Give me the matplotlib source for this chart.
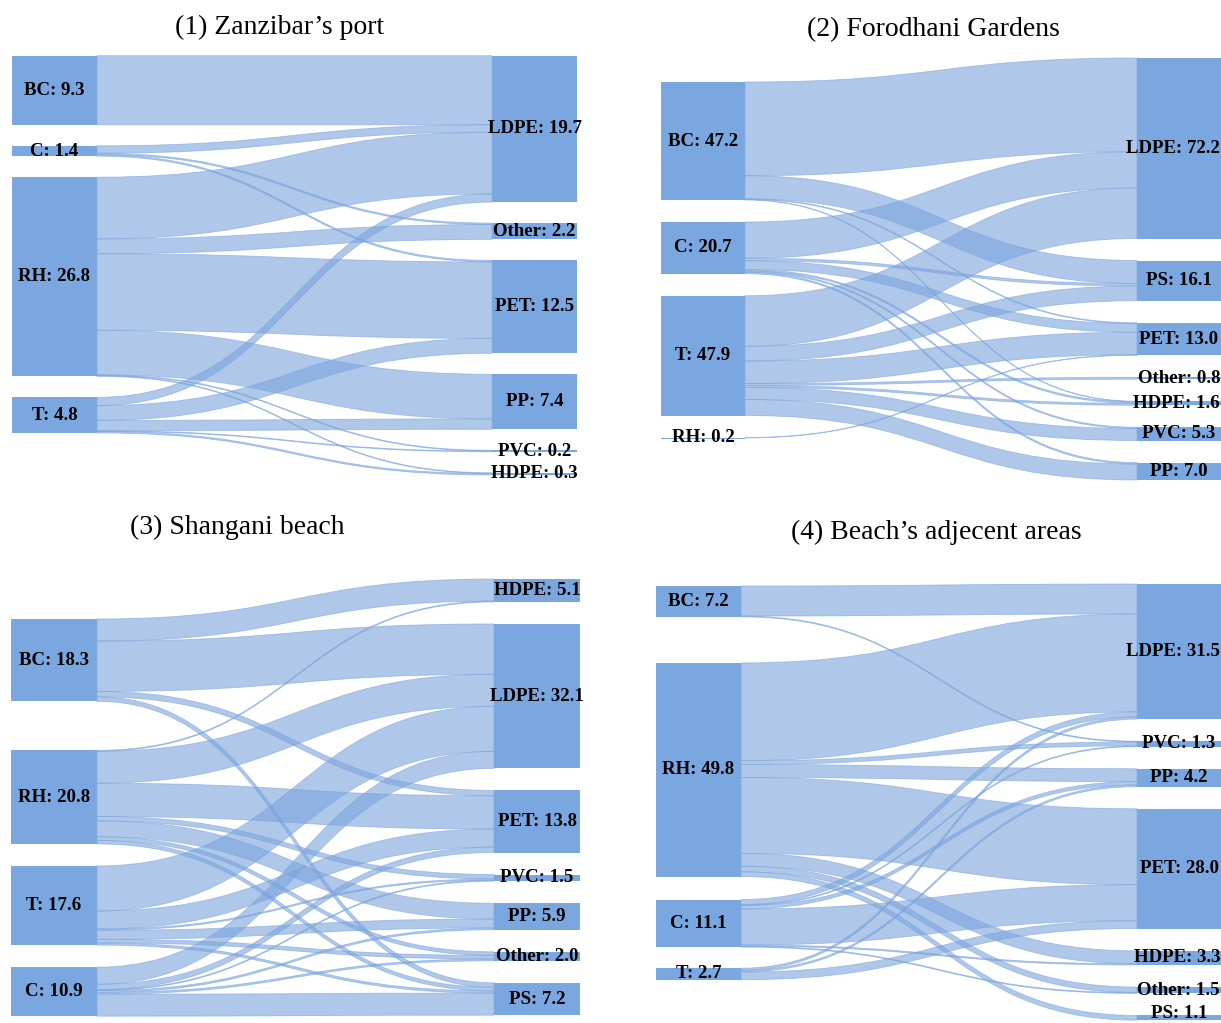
import matplotlib
matplotlib.use("Agg")
import matplotlib.pyplot as plt
from matplotlib.path import Path
from matplotlib.patches import PathPatch, Rectangle

# ---------------------------------------------------------------- data
P1_TITLE = "(1) Zanzibar\u2019s port"
P1_SOURCES = ["BC", "C", "RH", "T"]
P1_SOURCE_VALUES = [9.3, 1.4, 26.8, 4.8]
P1_TARGETS = ["LDPE", "Other", "PET", "PP", "PVC", "HDPE"]
P1_TARGET_VALUES = [19.7, 2.2, 12.5, 7.4, 0.2, 0.3]
P1_FLOWS = [  # rows: sources, columns: targets
    [9.3, 0.0, 0.0, 0.0, 0.0, 0.0],
    [1.0, 0.2, 0.2, 0.0, 0.0, 0.0],
    [8.3, 2.0, 10.3, 6.0, 0.1, 0.1],
    [1.1, 0.0, 2.0, 1.4, 0.1, 0.2],
]

P2_TITLE = "(2) Forodhani Gardens"
P2_SOURCES = ["BC", "C", "T", "RH"]
P2_SOURCE_VALUES = [47.2, 20.7, 47.9, 0.2]
P2_TARGETS = ["LDPE", "PS", "PET", "Other", "HDPE", "PVC", "PP"]
P2_TARGET_VALUES = [72.2, 16.1, 13.0, 0.8, 1.6, 5.3, 7.0]
P2_FLOWS = [
    [37.5, 9.2, 0.3, 0.0, 0.2, 0.0, 0.0],
    [14.5, 1.0, 3.5, 0.0, 0.6, 0.5, 0.6],
    [20.2, 5.9, 9.0, 0.8, 0.8, 4.8, 6.4],
    [0.0, 0.0, 0.2, 0.0, 0.0, 0.0, 0.0],
]

P3_TITLE = "(3) Shangani beach"
P3_SOURCES = ["BC", "RH", "T", "C"]
P3_SOURCE_VALUES = [18.3, 20.8, 17.6, 10.9]
P3_TARGETS = ["HDPE", "LDPE", "PET", "PVC", "PP", "Other", "PS"]
P3_TARGET_VALUES = [5.1, 32.1, 13.8, 1.5, 5.9, 2.0, 7.2]
P3_FLOWS = [
    [4.9, 11.2, 1.2, 0.0, 0.0, 0.0, 1.0],
    [0.2, 7.1, 7.4, 1.0, 3.5, 0.8, 0.8],
    [0.0, 10.0, 4.0, 0.3, 2.0, 0.8, 0.5],
    [0.0, 3.8, 1.2, 0.2, 0.4, 0.4, 4.9],
]

P4_TITLE = "(4) Beach\u2019s adjecent areas"
P4_SOURCES = ["BC", "RH", "C", "T"]
P4_SOURCE_VALUES = [7.2, 49.8, 11.1, 2.7]
P4_TARGETS = ["LDPE", "PVC", "PP", "PET", "HDPE", "Other", "PS"]
P4_TARGET_VALUES = [31.5, 1.3, 4.2, 28.0, 3.3, 1.5, 1.1]
P4_FLOWS = [
    [7.0, 0.2, 0.0, 0.0, 0.0, 0.0, 0.0],
    [22.8, 0.9, 3.0, 17.7, 3.0, 1.3, 1.1],
    [1.2, 0.2, 0.8, 8.4, 0.3, 0.2, 0.0],
    [0.5, 0.0, 0.4, 1.8, 0.0, 0.0, 0.0],
]

# ---------------------------------------------------------------- style
NODE_COLOR = "#7aa7df"
LINK_COLOR = "#7ba4dd"
LINK_ALPHA = 0.6
LABEL_FONT = dict(family="Liberation Serif", weight="bold", size=13.6)
TITLE_FONT = dict(family="Liberation Serif", size=20)

W, H = 1221, 1023
fig = plt.figure(figsize=(W / 100, H / 100), dpi=100)
ax = fig.add_axes([0, 0, 1, 1])
ax.set_xlim(0, W)
ax.set_ylim(H, 0)
ax.axis("off")

# panel geometry in pixel space
PANELS = [
    dict(title=P1_TITLE, sources=P1_SOURCES, svals=P1_SOURCE_VALUES,
         targets=P1_TARGETS, tvals=P1_TARGET_VALUES, flows=P1_FLOWS,
         lx=(12, 97), rx=(492, 577), ltop=55.7, rtop=55.7, scale=7.43,
         lgaps=[21, 21, 21], rgaps=[21] * 5, title_xy=(280, 27)),
    dict(title=P2_TITLE, sources=P2_SOURCES, svals=P2_SOURCE_VALUES,
         targets=P2_TARGETS, tvals=P2_TARGET_VALUES, flows=P2_FLOWS,
         lx=(661, 745), rx=(1137, 1224), ltop=82, rtop=58, scale=2.5,
         lgaps=[22] * 3, rgaps=[22] * 6, title_xy=(933, 30)),
    dict(title=P3_TITLE, sources=P3_SOURCES, svals=P3_SOURCE_VALUES,
         targets=P3_TARGETS, tvals=P3_TARGET_VALUES, flows=P3_FLOWS,
         lx=(11, 97), rx=(494, 580), ltop=619, rtop=579, scale=4.5,
         lgaps=[49, 22, 22], rgaps=[22] * 6, title_xy=(237, 527)),
    dict(title=P4_TITLE, sources=P4_SOURCES, svals=P4_SOURCE_VALUES,
         targets=P4_TARGETS, tvals=P4_TARGET_VALUES, flows=P4_FLOWS,
         lx=(656, 741), rx=(1137, 1224), ltop=586, rtop=584, scale=4.29,
         lgaps=[46, 23, 21], rgaps=[22] * 6, title_xy=(936, 532)),
]


def column(values, top, scale, gaps):
    spans, y = [], top
    for i, v in enumerate(values):
        h = v * scale
        spans.append((y, y + h))
        y += h + (gaps[i] if i < len(gaps) else 0)
    return spans


def band(xs, ys0, ys1, xt, yt0, yt1):
    xm = (xs + xt) / 2
    verts = [(xs, ys0), (xm, ys0), (xm, yt0), (xt, yt0),
             (xt, yt1), (xm, yt1), (xm, ys1), (xs, ys1), (xs, ys0)]
    codes = [Path.MOVETO, Path.CURVE4, Path.CURVE4, Path.CURVE4,
             Path.LINETO, Path.CURVE4, Path.CURVE4, Path.CURVE4, Path.CLOSEPOLY]
    return Path(verts, codes)


labels = []
for p in PANELS:
    sc = p["scale"]
    lspans = column(p["svals"], p["ltop"], sc, p["lgaps"])
    rspans = column(p["tvals"], p["rtop"], sc, p["rgaps"])
    lc = [(a + b) / 2 for a, b in lspans]
    rc = [(a + b) / 2 for a, b in rspans]
    flows = p["flows"]
    ns, nt = len(lspans), len(rspans)

    # outgoing links stacked by target position, incoming by source position
    s_off = {}
    for i in range(ns):
        y = lspans[i][0]
        for j in sorted(range(nt), key=lambda k: rc[k]):
            v = flows[i][j]
            if v > 0:
                s_off[(i, j)] = (y, y + v * sc)
                y += v * sc
    t_off = {}
    for j in range(nt):
        y = rspans[j][0]
        for i in sorted(range(ns), key=lambda k: lc[k]):
            v = flows[i][j]
            if v > 0:
                t_off[(i, j)] = (y, y + v * sc)
                y += v * sc

    xs, xt = p["lx"][1], p["rx"][0]
    for (i, j), (a0, a1) in s_off.items():
        b0, b1 = t_off[(i, j)]
        ax.add_patch(PathPatch(band(xs, a0, a1, xt, b0, b1),
                               facecolor=LINK_COLOR, alpha=LINK_ALPHA,
                               edgecolor=LINK_COLOR, linewidth=0.6, zorder=2))

    for (x0, x1), spans, names, vals in ((p["lx"], lspans, p["sources"], p["svals"]),
                                         (p["rx"], rspans, p["targets"], p["tvals"])):
        for (y0, y1), name, v in zip(spans, names, vals):
            ax.add_patch(Rectangle((x0, y0), x1 - x0, max(y1 - y0, 1.0),
                                   facecolor=NODE_COLOR, edgecolor="none", zorder=3))
            cx = (x0 + min(x1, W)) / 2
            labels.append(ax.text(cx, (y0 + y1) / 2, f"{name}: {v:.1f}", ha="center",
                                  va="center", zorder=4, **LABEL_FONT))

    tx, ty = p["title_xy"]
    ax.text(tx, ty, p["title"], ha="center", va="center", **TITLE_FONT)

# keep node labels inside the canvas (one data unit equals one pixel here)
renderer = fig.canvas.get_renderer()
for t in labels:
    bb = t.get_window_extent(renderer)
    x, y = t.get_position()
    if bb.x1 > W - 1:
        x -= bb.x1 - (W - 1)
    if bb.y0 < 1:          # display y grows upward, data y grows downward
        y -= 1 - bb.y0
    t.set_position((x, y))

fig.savefig("out.png", dpi=100, facecolor="white")
